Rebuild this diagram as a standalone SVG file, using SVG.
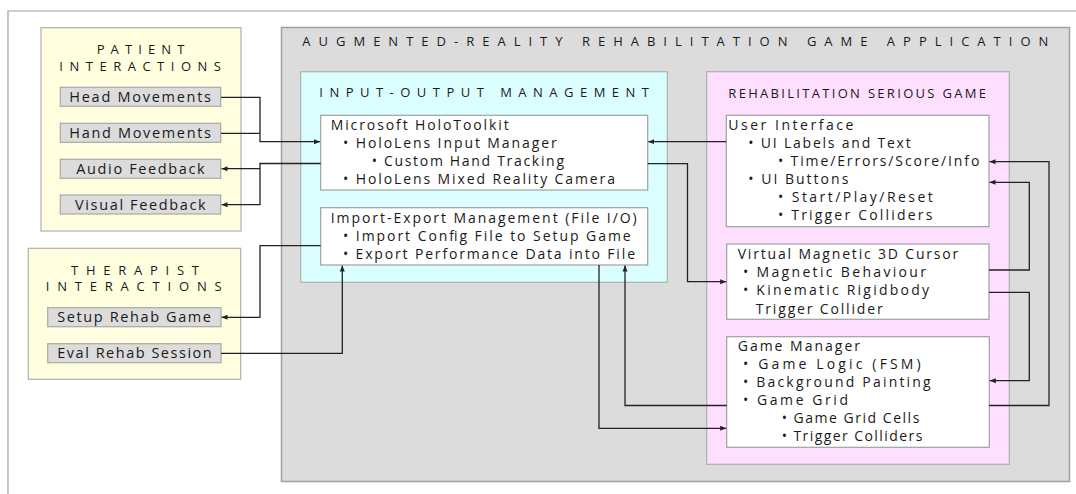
<svg xmlns="http://www.w3.org/2000/svg" width="1076" height="494" viewBox="0 0 1076 494">
<defs>
<style>
text{font-family:"Open Sans","Noto Sans","DejaVu Sans",sans-serif;fill:#1a1a1a}
.t{font-size:13px}
.b{font-size:14px}
.s{font-size:14.5px}
.group{stroke:#b0b0b0;stroke-width:1.2}
.sub{fill:#dcdcdc;stroke:#a8a8a8;stroke-width:1.2}
.wb{fill:#fff;stroke:#a0a0a0;stroke-width:1.2}
.c{fill:none;stroke:#222;stroke-width:1.3}
</style>
<marker id="ah" markerUnits="userSpaceOnUse" markerWidth="7" markerHeight="6" refX="6" refY="3" orient="auto">
<path d="M0,0.5 L6,3 L0,5.5 Z" fill="#222"/>
</marker>
</defs>
<rect width="1076" height="494" fill="#fff"/>
<path d="M8,494 V11 H1076" fill="none" stroke="#a0a0a0" stroke-width="1.2"/>

<g id="patient">
<rect x="41" y="27.7" width="200" height="203.3" fill="#ffffe0" class="group"/>
<text class="t" x="96.7" y="53.5" textLength="87.6" lengthAdjust="spacing">PATIENT</text>
<text class="t" x="59.3" y="70.5" textLength="161.7" lengthAdjust="spacing">INTERACTIONS</text>
</g>
<g id="head">
<rect x="60.3" y="87.3" width="160.4" height="19" class="sub"/>
<text class="s" x="69.3" y="101.7" textLength="141.7" lengthAdjust="spacing">Head Movements</text>
</g>
<g id="hand">
<rect x="60.3" y="123.3" width="160.4" height="19" class="sub"/>
<text class="s" x="69.3" y="137.7" textLength="141.7" lengthAdjust="spacing">Hand Movements</text>
</g>
<g id="audio">
<rect x="60.3" y="159.3" width="160.4" height="19" class="sub"/>
<text class="s" x="76.3" y="173.7" textLength="128.4" lengthAdjust="spacing">Audio Feedback</text>
</g>
<g id="visual">
<rect x="60.3" y="195" width="160.4" height="19" class="sub"/>
<text class="s" x="75" y="209.5" textLength="130.7" lengthAdjust="spacing">Visual Feedback</text>
</g>

<g id="therapist">
<rect x="28.3" y="248.3" width="212.4" height="131" fill="#ffffe0" class="group"/>
<text class="t" x="71" y="274.5" textLength="128" lengthAdjust="spacing">THERAPIST</text>
<text class="t" x="45.7" y="290.5" textLength="176" lengthAdjust="spacing">INTERACTIONS</text>
</g>
<g id="setup">
<rect x="47.7" y="307.7" width="173.3" height="19" class="sub"/>
<text class="s" x="57.3" y="322" textLength="153.7" lengthAdjust="spacing">Setup Rehab Game</text>
</g>
<g id="eval">
<rect x="47.7" y="343.7" width="173.3" height="19" class="sub"/>
<text class="s" x="57.3" y="358.2" textLength="154.4" lengthAdjust="spacing">Eval Rehab Session</text>
</g>

<g id="app">
<rect x="281.5" y="27.5" width="788" height="454" fill="#dcdcdc" stroke="#a0a0a0" stroke-width="1.5"/>
<text class="t" x="302.3" y="46.3" textLength="746" lengthAdjust="spacing">AUGMENTED-REALITY REHABILITATION GAME APPLICATION</text>
</g>
<g id="io">
<rect x="300.7" y="71.7" width="366.6" height="210.6" fill="#dbffff" class="group"/>
<text class="t" x="319.3" y="97" textLength="329.7" lengthAdjust="spacing">INPUT-OUTPUT MANAGEMENT</text>
</g>
<g id="holotoolkit">
<rect x="320.7" y="115.3" width="327" height="74.7" class="wb"/>
<text class="b" x="330.7" y="130" textLength="178" lengthAdjust="spacing">Microsoft HoloToolkit</text>
<text class="b" x="343" y="148" textLength="213.7" lengthAdjust="spacing">• HoloLens Input Manager</text>
<text class="b" x="371.7" y="166" textLength="192.3" lengthAdjust="spacing">• Custom Hand Tracking</text>
<text class="b" x="343" y="184" textLength="272" lengthAdjust="spacing">• HoloLens Mixed Reality Camera</text>
</g>
<g id="fileio">
<rect x="320.7" y="207.7" width="327" height="57.3" class="wb"/>
<text class="b" x="330.7" y="223" textLength="306" lengthAdjust="spacing">Import-Export Management (File I/O)</text>
<text class="b" x="343" y="241" textLength="287.7" lengthAdjust="spacing">• Import Config File to Setup Game</text>
<text class="b" x="343" y="259" textLength="292" lengthAdjust="spacing">• Export Performance Data into File</text>
</g>

<g id="game">
<rect x="706.7" y="71.7" width="302.6" height="392.6" fill="#ffdfff" class="group"/>
<text class="t" x="728.3" y="97.7" textLength="257.7" lengthAdjust="spacing">REHABILITATION SERIOUS GAME</text>
</g>
<g id="ui">
<rect x="726.3" y="115.3" width="262.7" height="111.4" class="wb"/>
<text class="b" x="728.3" y="129.7" textLength="125" lengthAdjust="spacing">User Interface</text>
<text class="b" x="748.3" y="148" textLength="162.4" lengthAdjust="spacing">• UI Labels and Text</text>
<text class="b" x="778" y="166.2" textLength="201.3" lengthAdjust="spacing">• Time/Errors/Score/Info</text>
<text class="b" x="748.3" y="184" textLength="100" lengthAdjust="spacing">• UI Buttons</text>
<text class="b" x="778" y="202" textLength="154.7" lengthAdjust="spacing">• Start/Play/Reset</text>
<text class="b" x="778" y="220.2" textLength="154.3" lengthAdjust="spacing">• Trigger Colliders</text>
</g>
<g id="cursor">
<rect x="726.7" y="244" width="262.3" height="75.3" class="wb"/>
<text class="b" x="737.7" y="258.7" textLength="220.6" lengthAdjust="spacing">Virtual Magnetic 3D Cursor</text>
<text class="b" x="743" y="277" textLength="183" lengthAdjust="spacing">• Magnetic Behaviour</text>
<text class="b" x="743" y="295.2" textLength="186" lengthAdjust="spacing">• Kinematic Rigidbody</text>
<text class="b" x="755.7" y="313.5" textLength="127" lengthAdjust="spacing">Trigger Collider</text>
</g>
<g id="gamemanager">
<rect x="726.7" y="336.7" width="262.6" height="110.6" class="wb"/>
<text class="b" x="737.7" y="350.7" textLength="122.3" lengthAdjust="spacing">Game Manager</text>
<text class="b" x="743" y="369" textLength="177.7" lengthAdjust="spacing">• Game Logic (FSM)</text>
<text class="b" x="743" y="387" textLength="187.7" lengthAdjust="spacing">• Background Painting</text>
<text class="b" x="743" y="404.7" textLength="105" lengthAdjust="spacing">• Game Grid</text>
<text class="b" x="781.7" y="423" textLength="137.6" lengthAdjust="spacing">• Game Grid Cells</text>
<text class="b" x="781.7" y="441" textLength="140.6" lengthAdjust="spacing">• Trigger Colliders</text>
</g>

<g id="connectors">
<path class="c" d="M221,97.3 H260 V141.7 H320" marker-end="url(#ah)"/>
<path class="c" d="M221,133.3 H260"/>
<path class="c" d="M320.7,163.5 H260 V204.7 H221.5" marker-end="url(#ah)"/>
<path class="c" d="M260,168.7 H221.5" marker-end="url(#ah)"/>
<path class="c" d="M320.7,245.7 H260 V317.3 H221.5" marker-end="url(#ah)"/>
<path class="c" d="M221,353.3 H342.3 V265.5" marker-end="url(#ah)"/>
<path class="c" d="M726.3,141.7 H648.2" marker-end="url(#ah)"/>
<path class="c" d="M647.7,163.7 H687.5 V281.7 H726.2" marker-end="url(#ah)"/>
<path class="c" d="M599,265 V428.3 H726.2" marker-end="url(#ah)"/>
<path class="c" d="M726.7,405.5 H625 V265.5" marker-end="url(#ah)"/>
<path class="c" d="M989.3,405.5 H1049 V161.7 H989.5" marker-end="url(#ah)"/>
<path class="c" d="M989,270 H1029.3 V182.3 H989.5" marker-end="url(#ah)"/>
<path class="c" d="M989,292.3 H1029.3 V380.7 H989.8" marker-end="url(#ah)"/>
</g>
</svg>
